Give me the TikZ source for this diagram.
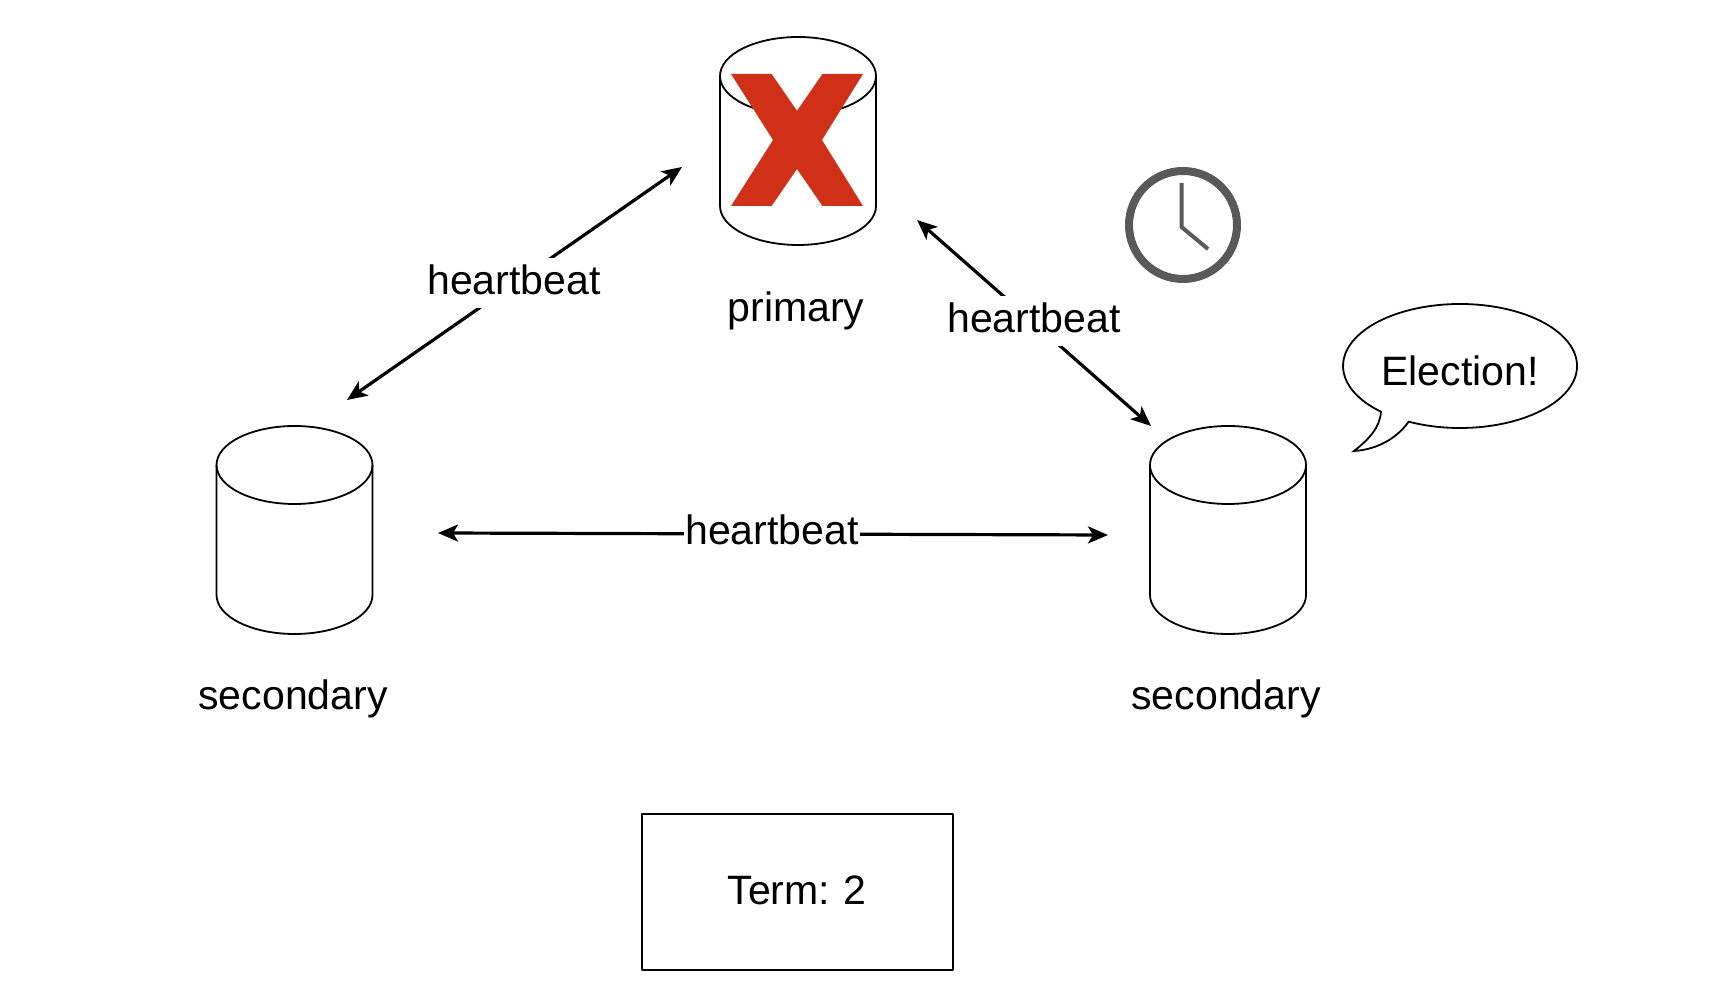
\documentclass[tikz,border=0pt]{standalone}
\usepackage{fontspec}
\setmainfont{Liberation Sans}
\usetikzlibrary{arrows.meta}
\definecolor{crossred}{HTML}{D03018}
\definecolor{clockgray}{HTML}{595959}
\tikzset{
  dbnode/.style={minimum width=78bp,minimum height=104bp,inner sep=0pt,outer sep=0pt},
  dbline/.style={line width=0.9bp},
  textnode/.style={font=\fontsize{20.6}{24}\selectfont},
  hblabel/.style={textnode,fill=white,inner xsep=0.5bp,inner ysep=3.4bp,text depth=3.2bp},
  hbarrow/.style={<->,line width=1.6bp},
}
\newcommand{\dbdraw}[1]{%
  \draw [dbline] ([yshift=-19.5bp]#1.north west) arc [start angle=180,end angle=0,x radius=39bp,y radius=19.5bp]
    -- ([yshift=19.5bp]#1.south east) arc [start angle=0,end angle=-180,x radius=39bp,y radius=19.5bp] -- cycle;
  \draw [dbline] ([yshift=-19.5bp]#1.north west) arc [start angle=180,end angle=360,x radius=39bp,y radius=19.5bp];
}
\begin{document}
\begin{tikzpicture}[>={Stealth[length=10bp,width=8.5bp,inset=2.5bp]},line join=bevel]
\useasboundingbox (0bp,0bp) rectangle (856bp,494bp);
%%
\node (primary) at (399bp,423.5bp) [dbnode] {};
\node (sec_left) at (147.25bp,229bp) [dbnode] {};
\node (sec_right) at (614bp,229bp) [dbnode] {};
\dbdraw{primary}
\dbdraw{sec_left}
\dbdraw{sec_right}
\node (primary_txt) at (398bp,338.4bp) [textnode] {primary};
\node (sec_left_txt) at (146.5bp,144.4bp) [textnode] {secondary};
\node (sec_right_txt) at (613bp,144.4bp) [textnode] {secondary};
%
\fill [crossred] (365.5bp,457bp) -- (385.8bp,457bp) -- (398.5bp,438.6bp) -- (411.2bp,457bp) -- (431.5bp,457bp)
  -- (411bp,424bp) -- (431.5bp,391bp) -- (411.2bp,391bp) -- (398.5bp,409.5bp) -- (385.8bp,391bp) -- (365.5bp,391bp)
  -- (386.5bp,424bp) -- cycle;
%
\coordinate (left_a) at (173.5bp,294bp);
\coordinate (left_b) at (341bp,410.5bp);
\coordinate (right_a) at (458.5bp,384bp);
\coordinate (right_b) at (575.5bp,281bp);
\coordinate (bottom_a) at (219bp,227.5bp);
\coordinate (bottom_b) at (554bp,226.5bp);
\draw [hbarrow] (left_a) -- (left_b);
\draw [hbarrow] (right_a) -- (right_b);
\draw [hbarrow] (bottom_a) -- (bottom_b);
\node (hb_left) at (257bp,352.4bp) [hblabel] {heartbeat};
\node (hb_right) at (517bp,333.4bp) [hblabel] {heartbeat};
\node (hb_bottom) at (386bp,227.4bp) [hblabel] {heartbeat};
%
\node (clock) at (591.5bp,381.5bp) [circle,draw=clockgray,line width=4bp,minimum size=54bp,inner sep=0pt] {};
\coordinate (hand_top) at (590.75bp,402.5bp);
\coordinate (hand_mid) at (590.75bp,380.5bp);
\coordinate (hand_end) at (604bp,369.5bp);
\draw [clockgray,line width=2bp] (hand_top) -- (hand_mid) -- (hand_end);
%
\coordinate (bubble_start) at (704.36bp,283.14bp);
\coordinate (bubble_tip) at (677bp,268.5bp);
\draw [dbline,line join=miter] (bubble_start) arc [start angle=244,end angle=587.5,x radius=58.5bp,y radius=31bp]
  .. controls (690bp,280bp) and (684bp,274bp) .. (bubble_tip)
  .. controls (686bp,269bp) and (697bp,273bp) .. cycle;
\node (election) at (730bp,308.5bp) [textnode] {Election!};
%
\node (term) at (398.5bp,47.75bp) [draw,line width=1bp,minimum width=155.5bp,minimum height=78bp,inner sep=0pt,textnode,text depth=2bp] {Term:\hspace{-0.8bp} 2};
%
\end{tikzpicture}
\end{document}
